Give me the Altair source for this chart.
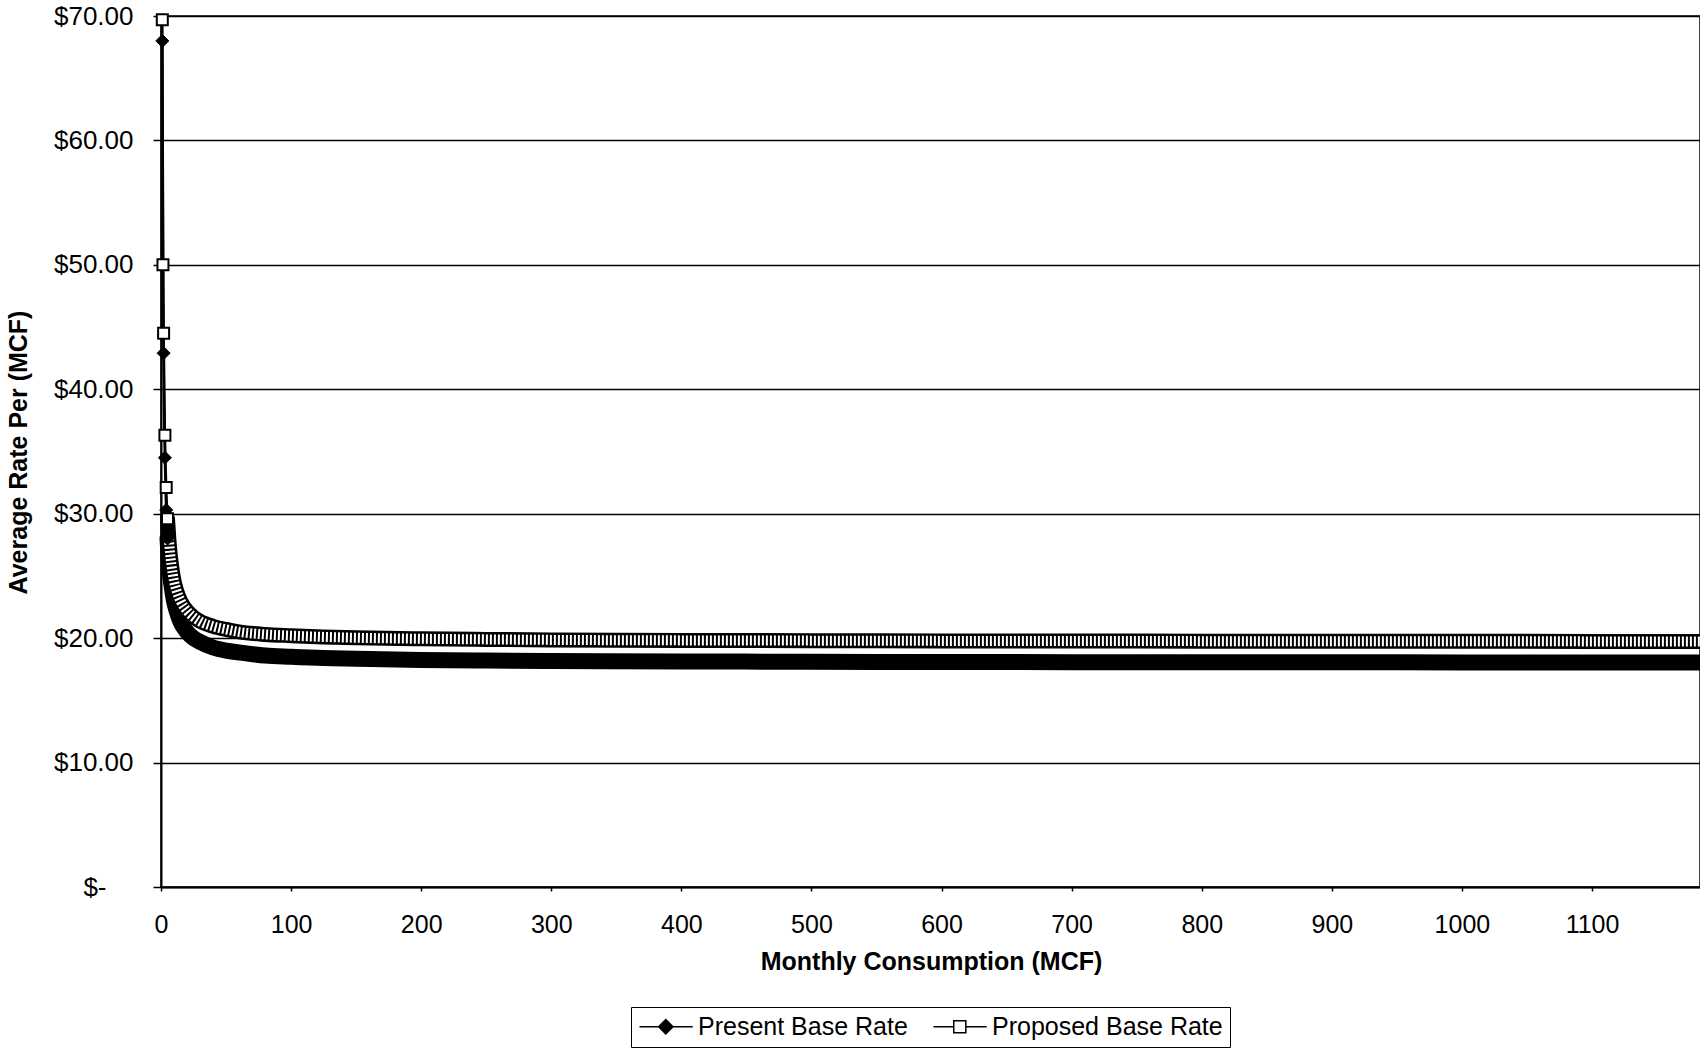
import altair as alt
import pandas as pd

FONT = "Liberation Sans"
SERIES = ["Present Base Rate", "Proposed Base Rate"]

present_mcf = [1, 2, 3, 4, 5, 6, 7, 8, 10, 12, 15, 20, 25, 30, 40, 50, 60, 80, 100, 125,
               150, 200, 250, 300, 400, 500, 600, 700, 800, 900, 1000, 1100, 1183]
present_rate = [68.0, 42.9, 34.5, 30.3, 28.0, 26.3, 25.1, 24.3, 23.0, 22.2, 21.3, 20.5, 20.0,
                19.7, 19.25, 19.0, 18.85, 18.6, 18.5, 18.4, 18.35, 18.25, 18.2, 18.17, 18.13,
                18.1, 18.08, 18.07, 18.06, 18.06, 18.05, 18.05, 18.04]
proposed_mcf = [1, 1.5, 2, 3, 4, 5, 6, 7, 8, 10, 12, 15, 20, 25, 30, 40, 50, 60, 80, 100, 125,
                150, 200, 250, 300, 400, 500, 600, 700, 800, 900, 1000, 1100, 1183]
proposed_rate = [69.7, 50.0, 44.5, 36.3, 32.1, 29.6, 28.0, 26.8, 25.9, 24.6, 23.8, 23.0, 22.2,
                 21.7, 21.35, 20.95, 20.7, 20.5, 20.3, 20.2, 20.1, 20.03, 19.95, 19.9, 19.86,
                 19.82, 19.8, 19.78, 19.77, 19.76, 19.75, 19.75, 19.74, 19.74]
y_ticks = [0, 10, 20, 30, 40, 50, 60, 70]
x_ticks = [0, 100, 200, 300, 400, 500, 600, 700, 800, 900, 1000, 1100]

df = pd.concat([
    pd.DataFrame({"mcf": present_mcf, "rate": present_rate, "series": SERIES[0]}),
    pd.DataFrame({"mcf": proposed_mcf, "rate": proposed_rate, "series": SERIES[1]}),
], ignore_index=True)

x = alt.X("mcf:Q", title="Monthly Consumption (MCF)",
          scale=alt.Scale(domain=[0, 1183], nice=False),
          axis=alt.Axis(values=x_ticks, format="d", grid=False, tickSize=4, tickWidth=1.5,
                        tickColor="black", domainColor="black", domainWidth=2, labelPadding=21,
                        labelFlush=False, labelOverlap=False, labelFont=FONT, labelFontSize=25,
                        labelColor="black", titleFont=FONT, titleFontSize=25,
                        titleFontWeight="bold", titleColor="black",
                        titleX=770, titleY=74, titleBaseline="middle"))
y = alt.Y("rate:Q", title="Average Rate Per (MCF)",
          scale=alt.Scale(domain=[0, 70], nice=False),
          axis=alt.Axis(values=y_ticks, grid=True, gridColor="black", gridWidth=1.5,
                        tickSize=8, tickWidth=1.5, tickColor="black",
                        domainColor="black", domainWidth=2,
                        labelPadding={"condition": {"test": "datum.value == 0", "value": 47},
                                      "value": 20},
                        labelExpr="datum.value == 0 ? '$-' : '$' + format(datum.value, '.2f')",
                        labelFont=FONT, labelFontSize=26, labelColor="black",
                        titleFont=FONT, titleFontSize=25, titleFontWeight="bold", titleColor="black",
                        titleX=-143, titleY=436, titleAngle=270, titleAlign="center",
                        titleBaseline="middle"))

base = alt.Chart(df)

thin = base.mark_line(color="black", strokeWidth=2.5, interpolate="monotone").encode(
    x=x, y=y, detail="series:N")

present_band = base.transform_filter(
    (alt.datum.series == SERIES[0]) & (alt.datum.mcf >= 5)
).mark_line(color="black", strokeWidth=16, strokeCap="round", interpolate="monotone").encode(x=x, y=y)

proposed_outer = base.transform_filter(
    (alt.datum.series == SERIES[1]) & (alt.datum.mcf >= 5)
).mark_line(color="black", strokeWidth=15, strokeCap="round", interpolate="monotone").encode(x=x, y=y)

proposed_inner = base.transform_filter(
    (alt.datum.series == SERIES[1]) & (alt.datum.mcf >= 5.5)
).mark_line(color="white", strokeWidth=10, strokeDash=[2, 2], strokeCap="butt",
            interpolate="monotone").encode(x=x, y=y)

present_pts = base.transform_filter(
    (alt.datum.series == SERIES[0]) & (alt.datum.mcf <= 5)
).mark_point(shape="diamond", filled=True, fill="black", stroke="black", strokeWidth=1,
             size=170, opacity=1).encode(x=x, y=y)

proposed_pts = base.transform_filter(
    (alt.datum.series == SERIES[1]) & (alt.datum.mcf <= 5)
).mark_point(shape="square", filled=True, fill="white", stroke="black", strokeWidth=2,
             size=121, opacity=1).encode(x=x, y=y)

present_path = "M-1,0H3.84M1.39,-0.65L2.04,0L1.39,0.65L0.74,0Z"
proposed_path = "M-1,0H0.84M1.94,0H3.84M0.84,-0.55H1.94V0.55H0.84Z"

legend = alt.Legend(
    title=None, orient="none", legendX=470, legendY=991, direction="horizontal",
    labelFont=FONT, labelFontSize=25, labelColor="black", labelOffset=35, labelLimit=400,
    columnPadding=22, padding=7, strokeColor="black", fillColor="white",
    symbolSize=484, symbolStrokeWidth=1.5, symbolOpacity=1,
)

# legend carrier: no visible marks, explicit scale domains drive the legend entries
legend_layer = base.transform_filter(alt.datum.mcf < 0).mark_point(
    filled=False, strokeWidth=1.5, size=484, opacity=1
).encode(
    x=x, y=y,
    shape=alt.Shape("series:N", scale=alt.Scale(domain=SERIES, range=[present_path, proposed_path]),
                    legend=legend),
    fill=alt.Fill("series:N", scale=alt.Scale(domain=SERIES, range=["black", "white"]),
                  legend=legend),
    stroke=alt.Stroke("series:N", scale=alt.Scale(domain=SERIES, range=["black", "black"]),
                      legend=legend),
)

chart = alt.layer(thin, present_band, proposed_outer, proposed_inner,
                  present_pts, proposed_pts, legend_layer).properties(
    width=1539, height=871,
    padding={"left": 161, "top": 16, "right": 0, "bottom": 162},
    autosize=alt.AutoSizeParams(type="none"),
    background="white",
).configure_view(stroke="black", strokeWidth=1.5)

chart.save("out.html", embed_options={"renderer": "svg", "actions": False})
